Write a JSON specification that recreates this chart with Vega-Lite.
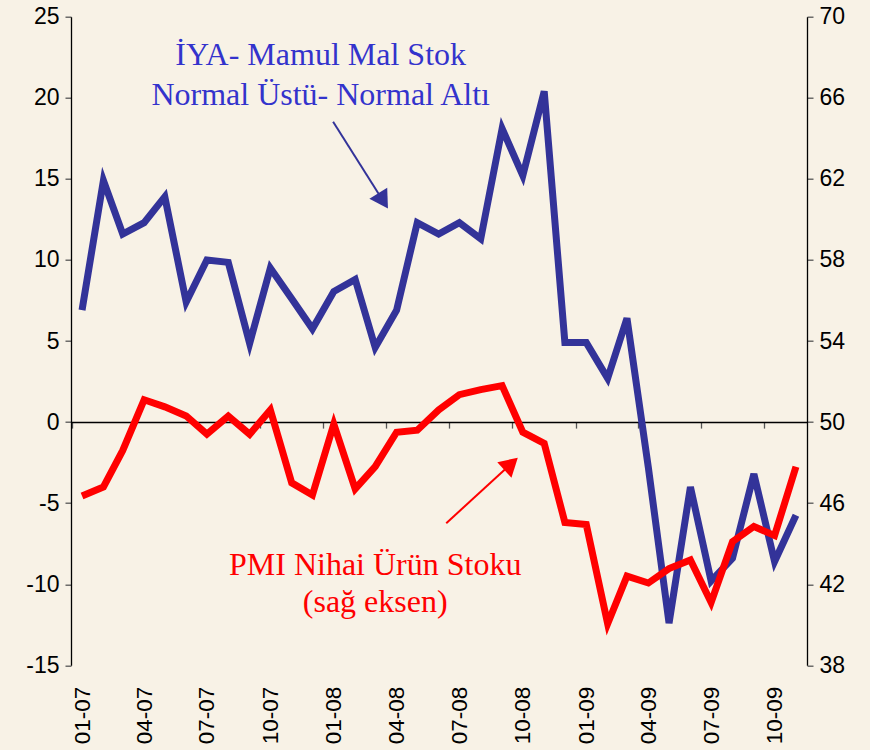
{
  "$schema": "https://vega.github.io/schema/vega-lite/v6.json",
  "width": 736,
  "height": 648.6,
  "autosize": {"type": "none"},
  "padding": {"left": 71, "top": 16.7, "right": 63, "bottom": 84.7},
  "background": "#F8F2E6",
  "config": {
    "view": {"stroke": null},
    "axis": {
      "grid": false,
      "title": null,
      "labelFont": "Liberation Sans",
      "labelFontSize": 23,
      "labelColor": "#000000",
      "domainColor": "#000000",
      "domainWidth": 1.3,
      "tickColor": "#555555",
      "tickWidth": 1.3
    }
  },
  "data": {
    "values": [
      {"date": "2007-01-01", "iya": 6.9, "pmi": 46.35},
      {"date": "2007-02-01", "iya": 14.9, "pmi": 46.8},
      {"date": "2007-03-01", "iya": 11.6, "pmi": 48.6},
      {"date": "2007-04-01", "iya": 12.3, "pmi": 51.1},
      {"date": "2007-05-01", "iya": 13.9, "pmi": 50.75},
      {"date": "2007-06-01", "iya": 7.4, "pmi": 50.3},
      {"date": "2007-07-01", "iya": 10.0, "pmi": 49.4},
      {"date": "2007-08-01", "iya": 9.85, "pmi": 50.3},
      {"date": "2007-09-01", "iya": 4.85, "pmi": 49.4},
      {"date": "2007-10-01", "iya": 9.5, "pmi": 50.6},
      {"date": "2007-11-01", "iya": 7.6, "pmi": 47.0},
      {"date": "2007-12-01", "iya": 5.75, "pmi": 46.4},
      {"date": "2008-01-01", "iya": 8.05, "pmi": 49.9},
      {"date": "2008-02-01", "iya": 8.8, "pmi": 46.7},
      {"date": "2008-03-01", "iya": 4.6, "pmi": 47.8},
      {"date": "2008-04-01", "iya": 6.9, "pmi": 49.5},
      {"date": "2008-05-01", "iya": 12.3, "pmi": 49.6},
      {"date": "2008-06-01", "iya": 11.6, "pmi": 50.6},
      {"date": "2008-07-01", "iya": 12.3, "pmi": 51.35},
      {"date": "2008-08-01", "iya": 11.3, "pmi": 51.6},
      {"date": "2008-09-01", "iya": 18.1, "pmi": 51.8},
      {"date": "2008-10-01", "iya": 15.2, "pmi": 49.5},
      {"date": "2008-11-01", "iya": 20.4, "pmi": 48.95},
      {"date": "2008-12-01", "iya": 4.9, "pmi": 45.05},
      {"date": "2009-01-01", "iya": 4.9, "pmi": 44.95},
      {"date": "2009-02-01", "iya": 2.7, "pmi": 40.05},
      {"date": "2009-03-01", "iya": 6.4, "pmi": 42.4},
      {"date": "2009-04-01", "iya": -2.8, "pmi": 42.06},
      {"date": "2009-05-01", "iya": -12.4, "pmi": 42.77},
      {"date": "2009-06-01", "iya": -4.0, "pmi": 43.2},
      {"date": "2009-07-01", "iya": -9.8, "pmi": 41.1},
      {"date": "2009-08-01", "iya": -8.4, "pmi": 44.1},
      {"date": "2009-09-01", "iya": -3.2, "pmi": 44.85},
      {"date": "2009-10-01", "iya": -8.6, "pmi": 44.4},
      {"date": "2009-11-01", "iya": -5.75, "pmi": 47.8}
    ]
  },
  "layer": [
    {
      "mark": {"type": "line", "color": "#333399", "strokeWidth": 7, "strokeJoin": "miter", "strokeCap": "butt"},
      "encoding": {
        "x": {
          "field": "date", "type": "temporal",
          "scale": {"type": "utc", "domain": [{"year": 2006, "month": 12, "date": 16, "utc": true}, {"year": 2009, "month": 11, "date": 17, "utc": true}]},
          "axis": {"orient": "bottom", "format": "%m-%y", "labelAngle": 270, "domain": false, "ticks": false, "tickSize": 0, "labelPadding": 21, "labelFontSize": 22.5, "labelOverlap": false, "labelFlush": false,
            "values": [
              {"year": 2007, "month": 1, "date": 1, "utc": true}, {"year": 2007, "month": 4, "date": 1, "utc": true},
              {"year": 2007, "month": 7, "date": 1, "utc": true}, {"year": 2007, "month": 10, "date": 1, "utc": true},
              {"year": 2008, "month": 1, "date": 1, "utc": true}, {"year": 2008, "month": 4, "date": 1, "utc": true},
              {"year": 2008, "month": 7, "date": 1, "utc": true}, {"year": 2008, "month": 10, "date": 1, "utc": true},
              {"year": 2009, "month": 1, "date": 1, "utc": true}, {"year": 2009, "month": 4, "date": 1, "utc": true},
              {"year": 2009, "month": 7, "date": 1, "utc": true}, {"year": 2009, "month": 10, "date": 1, "utc": true}
            ]}
        },
        "y": {
          "field": "iya", "type": "quantitative",
          "scale": {"domain": [-15, 25], "nice": false, "zero": false},
          "axis": {"orient": "left", "values": [-15, -10, -5, 0, 5, 10, 15, 20, 25], "tickSize": 6, "labelPadding": 6, "labelExpr": "'' + datum.value"}
        }
      }
    },
    {
      "mark": {"type": "line", "color": "#FF0000", "strokeWidth": 7, "strokeJoin": "miter", "strokeCap": "butt"},
      "encoding": {
        "x": {
          "field": "date", "type": "temporal",
          "scale": {"type": "utc", "domain": [{"year": 2006, "month": 12, "date": 16, "utc": true}, {"year": 2009, "month": 11, "date": 17, "utc": true}]},
          "axis": {"orient": "bottom", "offset": -243.2, "labels": false, "domain": true, "ticks": true, "tickSize": 6, "tickOffset": -10.5, "domainWidth": 1.5,
            "values": [
              {"year": 2007, "month": 1, "date": 1, "utc": true}, {"year": 2007, "month": 4, "date": 1, "utc": true},
              {"year": 2007, "month": 7, "date": 1, "utc": true}, {"year": 2007, "month": 10, "date": 1, "utc": true},
              {"year": 2008, "month": 1, "date": 1, "utc": true}, {"year": 2008, "month": 4, "date": 1, "utc": true},
              {"year": 2008, "month": 7, "date": 1, "utc": true}, {"year": 2008, "month": 10, "date": 1, "utc": true},
              {"year": 2009, "month": 1, "date": 1, "utc": true}, {"year": 2009, "month": 4, "date": 1, "utc": true},
              {"year": 2009, "month": 7, "date": 1, "utc": true}, {"year": 2009, "month": 10, "date": 1, "utc": true}
            ]}
        },
        "y": {
          "field": "pmi", "type": "quantitative",
          "scale": {"domain": [38, 70], "nice": false, "zero": false},
          "axis": {"orient": "right", "values": [38, 42, 46, 50, 54, 58, 62, 66, 70], "tickSize": 6, "labelPadding": 6}
        }
      }
    },
    {
      "data": {"values": [{}]},
      "mark": {"type": "text", "text": ["İYA- Mamul Mal Stok", "Normal Üstü- Normal Altı"], "font": "Liberation Serif", "fontSize": 32, "lineHeight": 40, "align": "center", "baseline": "alphabetic", "color": "#3333CC"},
      "encoding": {
        "x": {"datum": {"year": 2007, "month": 12, "date": 13, "utc": true}, "type": "temporal", "axis": null},
        "y": {"datum": 22.0, "type": "quantitative", "scale": {"domain": [-15, 25], "nice": false, "zero": false}, "axis": null}
      }
    },
    {
      "data": {"values": [{}]},
      "mark": {"type": "rule", "color": "#333399", "strokeWidth": 2},
      "encoding": {
        "x": {"datum": {"year": 2007, "month": 12, "date": 31, "utc": true}, "type": "temporal", "axis": null},
        "x2": {"datum": {"year": 2008, "month": 3, "date": 8, "utc": true}},
        "y": {"datum": 18.52, "type": "quantitative", "scale": {"domain": [-15, 25], "nice": false, "zero": false}, "axis": null},
        "y2": {"datum": 13.94}
      }
    },
    {
      "data": {"values": [{}]},
      "mark": {"type": "point", "shape": "triangle-up", "filled": true, "opacity": 1, "size": 441, "angle": 148, "color": "#333399", "strokeWidth": 0},
      "encoding": {
        "x": {"datum": {"year": 2008, "month": 3, "date": 12, "hours": 12, "utc": true}, "type": "temporal", "axis": null},
        "y": {"datum": 13.64, "type": "quantitative", "scale": {"domain": [-15, 25], "nice": false, "zero": false}, "axis": null}
      }
    },
    {
      "data": {"values": [{}]},
      "mark": {"type": "text", "text": ["PMI Nihai Ürün Stoku", "(sağ eksen)"], "font": "Liberation Serif", "fontSize": 32, "lineHeight": 37.5, "align": "center", "baseline": "alphabetic", "color": "#FF0000"},
      "encoding": {
        "x": {"datum": {"year": 2008, "month": 3, "date": 1, "utc": true}, "type": "temporal", "axis": null},
        "y": {"datum": 42.46, "type": "quantitative", "scale": {"domain": [38, 70], "nice": false, "zero": false}, "axis": null}
      }
    },
    {
      "data": {"values": [{}]},
      "mark": {"type": "rule", "color": "#FF0000", "strokeWidth": 2},
      "encoding": {
        "x": {"datum": {"year": 2008, "month": 6, "date": 12, "utc": true}, "type": "temporal", "axis": null},
        "x2": {"datum": {"year": 2008, "month": 9, "date": 5, "utc": true}},
        "y": {"datum": 45.01, "type": "quantitative", "scale": {"domain": [38, 70], "nice": false, "zero": false}, "axis": null},
        "y2": {"datum": 47.66}
      }
    },
    {
      "data": {"values": [{}]},
      "mark": {"type": "point", "shape": "triangle-up", "filled": true, "opacity": 1, "size": 441, "angle": 47.6, "color": "#FF0000", "strokeWidth": 0},
      "encoding": {
        "x": {"datum": {"year": 2008, "month": 9, "date": 14, "utc": true}, "type": "temporal", "axis": null},
        "y": {"datum": 47.94, "type": "quantitative", "scale": {"domain": [38, 70], "nice": false, "zero": false}, "axis": null}
      }
    }
  ],
  "resolve": {"scale": {"y": "independent"}, "axis": {"x": "independent", "y": "independent"}}
}
